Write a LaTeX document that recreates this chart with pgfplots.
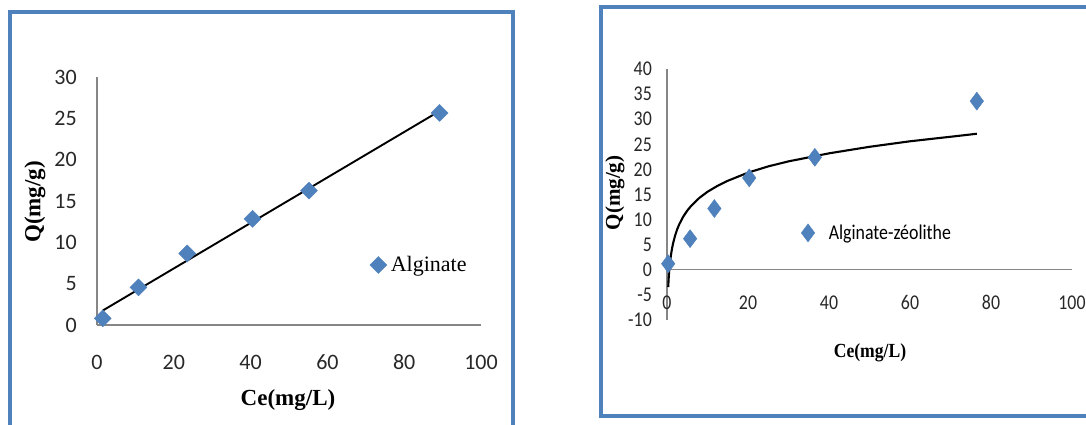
\documentclass[border=0pt]{standalone}
\usepackage{fontspec}
\setmainfont{Liberation Serif}
\newfontfamily\carlito{Carlito}
\newfontfamily\carlitoc[FakeStretch=0.85]{Carlito}
\newfontfamily\serifc[FakeStretch=0.88]{Liberation Serif}
\usepackage{pgfplots}
\usepackage{pgfplotstable}
\pgfplotsset{compat=1.18}
\definecolor{frameblue}{RGB}{79,129,189}
\definecolor{mkblue}{RGB}{79,129,189}
\definecolor{axgray}{RGB}{134,134,134}
\definecolor{txt}{RGB}{40,40,40}
\pgfplotsset{single mark legend/.style={legend image code/.code={\draw[##1] plot coordinates {(0pt,0pt)};}}}

\pgfplotstableread{
x y
1.5 0.80
10.8 4.55
23.5 8.65
40.5 12.85
55.2 16.25
89.2 25.65
}\alginate

\pgfplotstableread{
x y
0.3 1.2
5.7 6.2
11.7 12.2
20.3 18.3
36.5 22.4
76.5 33.6
}\zeolithe

\begin{document}
\begin{tikzpicture}[x=1pt,y=1pt]
\useasboundingbox (0,0) rectangle (1086,425);
\fill[white] (0,0) rectangle (1086,425);
\draw[frameblue, line width=4pt] (9.5,-20) -- (9.5,413) -- (512.5,413) -- (512.5,-20);
\draw[frameblue, line width=4pt] (1100,9) -- (601,9) -- (601,418) -- (1100,418);

% ---------- left panel ----------
\begin{axis}[
  at={(97pt,100pt)}, anchor=south west, scale only axis,
  width=384pt, height=248pt,
  xmin=0, xmax=100, ymin=0, ymax=30,
  axis x line=bottom, axis y line=left,
  axis line style={-, draw=axgray, line width=1.3pt},
  xtick={0,20,...,100}, ytick={0,5,...,30},
  major tick length=0pt,
  /pgf/number format/assume math mode=true,
  tick label style={font=\carlito\fontsize{22}{22}\selectfont, text=txt},
  xticklabel style={anchor=center, yshift=-37pt},
  yticklabel style={anchor=east, inner sep=0pt, xshift=-20pt},
  clip=false,
  legend style={at={(axis description cs:0.71,0.242)}, anchor=west,
    draw=none, fill=none, inner sep=0pt, nodes={inner sep=0pt},
    font=\fontsize{22}{22}\selectfont},
]
\addplot[only marks, mark=square*, mark size=6pt,
  mark options={rotate=45, fill=mkblue, draw=mkblue},
  single mark legend]
  table[x=x,y=y] {\alginate};
\addlegendentry{\hspace{4pt}Alginate}
\addplot[forget plot, black, line width=1.9pt, no marks]
  coordinates {(1.5,1.75) (89.2,25.88)};
\end{axis}

\node[font=\bfseries\fontsize{23}{23}\selectfont] at (288,25) {Ce(mg/L)};
\node[rotate=90, font=\bfseries\fontsize{23}{23}\selectfont] at (35,223) {Q(mg/g)};

% ---------- right panel ----------
\begin{axis}[
  at={(667pt,105pt)}, anchor=south west, scale only axis,
  width=405pt, height=251pt,
  xmin=0, xmax=100, ymin=-10, ymax=40,
  axis x line=middle, axis y line=left,
  axis line style={-, draw=axgray, line width=1.3pt},
  xtick={0,20,...,100}, ytick={-10,-5,...,40},
  hide obscured x ticks=false, hide obscured y ticks=false,
  major tick length=0pt,
  /pgf/number format/assume math mode=true,
  tick label style={font=\carlitoc\fontsize{21}{21}\selectfont, text=txt},
  xticklabel style={anchor=center, yshift=-33pt},
  yticklabel style={anchor=east, inner sep=0pt, xshift=-15pt},
  clip=false,
  legend style={at={(axis description cs:0.331,0.347)}, anchor=west,
    draw=none, fill=none, inner sep=0pt, nodes={inner sep=0pt},
    font=\carlitoc\fontsize{21}{21}\selectfont},
]
\addplot[only marks, mark=diamond*, mark size=9pt,
  mark options={fill=mkblue, draw=mkblue},
  single mark legend]
  table[x=x,y=y] {\zeolithe};
\addlegendentry{\hspace{14pt}Alginate-zéolithe}
\addplot[forget plot, black, line width=2.1pt, no marks] coordinates {
(0.3,-3.43) (0.4,-1.88) (0.5,-0.67) (0.6,0.32) (0.75,1.52) (1,3.08)
(1.25,4.29) (1.5,5.27) (2,6.83) (2.5,8.04) (3,9.02) (4,10.58)
(5,11.79) (6,12.77) (8,14.33) (10,15.54) (12.5,16.74) (15,17.73)
(20,19.35) (25,20.6) (30,21.6) (40,23.2) (50,24.5) (60,25.6)
(70,26.5) (76.5,27.1)};
\end{axis}

\node[font=\serifc\bfseries\fontsize{20}{20}\selectfont] at (870,72) {Ce(mg/L)};
\node[rotate=90, font=\bfseries\fontsize{21}{21}\selectfont] at (615,232) {Q(mg/g)};
\end{tikzpicture}
\end{document}
